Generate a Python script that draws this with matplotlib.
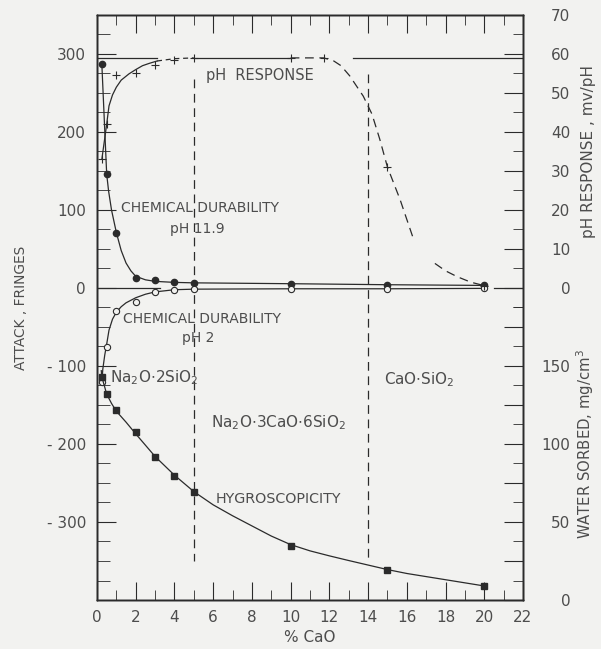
import matplotlib
matplotlib.use("Agg")
import matplotlib.pyplot as plt
import numpy as np

# ---- data ----
# x = % CaO
cao = [0.25, 0.5, 1, 2, 3, 4, 5, 10, 15, 20]

# attack, fringes (left axis)
dur_ph119 = [287, 146, 71, 13, 9.8, 7.2, 7.0, 5.5, 4.2, 3.3]
dur_ph2 = [-121, -76, -30, -18, -5.5, -2, -1.5, -1, -1, -0.5]

# water sorbed, mg/cm3 (lower right axis)
water = [143, 132, 122, 107.5, 91.7, 79.5, 69.5, 34.5, 19.2, 9.1]

# pH response, mv/pH (upper right axis)
ph_x = [0.25, 0.5, 1, 2, 3, 4, 5, 10, 11.7, 15, 20]
ph_y = [33, 42, 54.5, 55, 57.2, 58.5, 59, 59, 59, 31, 0.6]

# hand drawn curves
c119_x = [0.25, 0.5, 0.6, 0.75, 1.0, 1.25, 1.5, 1.75, 2.0, 2.5, 3, 4, 5, 10, 15, 20]
c119_y = [287, 146, 124, 100, 71, 48, 32, 22, 15, 10.5, 8.5, 7.2, 6.6, 5.5, 4.2, 3.3]

c2_x = [0.25, 0.3, 0.4, 0.5, 0.62, 0.8, 1.0, 1.25, 1.5, 2.0, 2.5, 3, 4, 5, 10, 15, 20]
c2_y = [-121, -104, -86, -72, -54, -40, -31, -24, -19, -12.5, -8, -5, -2.2, -1.5, -1, -1, -0.5]

hyg_x = [0.22, 0.25, 0.5, 0.75, 1, 1.5, 2, 3, 4, 5, 6, 7, 8, 9, 10, 11, 12, 13, 14, 15, 16, 17, 18, 19, 20]
hyg_y = [147, 143, 132, 126, 121, 114, 106.5, 92, 80, 69.5, 61, 54, 47.5, 41, 35.5, 31.5, 28.3, 25.3, 22.4, 19.5, 17, 15, 13, 11, 9]

ph_solid_x = [0.25, 0.5, 0.62, 0.8, 1.0, 1.25, 1.65, 2.0, 2.35, 2.7, 3.1]
ph_solid_y = [33, 42, 46.7, 49.5, 51.5, 53.3, 54.9, 56.0, 57.0, 57.6, 58.2]
ph_dash1_x = [3.1, 4, 5]
ph_dash1_y = [58.2, 58.8, 59]
ph_flat_x = [5, 10]
ph_flat_y = [59, 59]
ph_fall_x = [10, 11.7, 12.2, 12.6, 13.05, 13.75, 14.2, 14.6, 15.0, 15.65, 16.3]
ph_fall_y = [59, 59, 58.3, 57, 54.4, 49.2, 44.6, 38.2, 31, 22.7, 13.2]
ph_tail_x = [17.45, 18.0, 18.6, 19.3, 20]
ph_tail_y = [6.3, 4.4, 2.9, 1.5, 0.6]

nernst = 59  # theoretical mv/pH line

ink = "#2b2b2b"
txt = "#4d4d4d"
bg = "#f2f2f0"

fig = plt.figure(figsize=(6.01, 6.49), dpi=100, facecolor=bg)
ax = fig.add_axes([0.1614, 0.0755, 0.7088, 0.9014])
ax.set_facecolor(bg)
ax_ph = ax.twinx()
ax_w = ax.twinx()

ax.set_xlim(0, 22)
ax.set_ylim(-400, 350)
ax_ph.set_ylim(-80, 70)
ax_w.set_ylim(0, 375)

for a in (ax, ax_ph, ax_w):
    for s in a.spines.values():
        s.set_color(ink)
        s.set_linewidth(1.0)

# reference lines
ax_ph.plot([0, 3.1], [nernst, nernst], color=ink, lw=0.9)
ax_ph.plot([13.2, 22], [nernst, nernst], color=ink, lw=0.9)
ax.plot([0, 3.25], [0, 0], color=ink, lw=0.9)
ax.plot([20.5, 22], [0, 0], color=ink, lw=0.9)

# phase boundaries
ax.plot([5, 5], [268, -350], color=ink, lw=0.9, ls=(0, (7, 4.5)))
ax.plot([14, 14], [274, -350], color=ink, lw=0.9, ls=(0, (7, 4.5)))

# chemical durability curves
ax.plot(c119_x, c119_y, color=ink, lw=0.9)
ax.plot(c2_x, c2_y, color=ink, lw=0.9)
ax.plot(cao, dur_ph119, "o", color=ink, ms=4.5)
ax.plot(cao, dur_ph2, "o", mfc=bg, mec=ink, mew=0.8, ms=4.5)

# hygroscopicity
ax_w.plot(hyg_x, hyg_y, color=ink, lw=0.9)
ax_w.plot(cao, water, "s", color=ink, ms=4.5)

# pH response
ax_ph.plot(ph_solid_x, ph_solid_y, color=ink, lw=0.9)
ax_ph.plot(ph_dash1_x, ph_dash1_y, color=ink, lw=0.9, ls=(0, (4, 3)))
ax_ph.plot(ph_flat_x, ph_flat_y, color=ink, lw=0.9)
ax_ph.plot(ph_fall_x, ph_fall_y, color=ink, lw=0.9, ls=(0, (7, 4.5)))
ax_ph.plot(ph_tail_x, ph_tail_y, color=ink, lw=0.9, ls=(0, (7, 4.5)))
ax_ph.plot(ph_x, ph_y, "+", color=ink, ms=6, mew=0.8)

# ticks
ax.set_xticks(np.arange(0, 23, 2))
ax.set_xticks(np.arange(1, 22, 2), minor=True)
ax.set_yticks([300, 200, 100, 0, -100, -200, -300])
ax.set_yticklabels(["300", "200", "100", "0", "- 100", "- 200", "- 300"])
ax.set_yticks(np.arange(-375, 350, 25), minor=True)
ax.tick_params(axis="x", which="both", direction="in", top=True, bottom=True,
               color=ink, labelsize=11, labelcolor=txt, pad=7)
ax.tick_params(axis="x", which="major", length=13)
ax.tick_params(axis="x", which="minor", length=7)
ax.tick_params(axis="y", which="both", direction="in", left=True, right=False,
               color=ink, labelsize=11, labelcolor=txt, pad=8)
ax.tick_params(axis="y", which="major", length=14)
ax.tick_params(axis="y", which="minor", length=9)

ax_ph.set_yticks(np.arange(0, 71, 10))
ax_ph.set_yticks(np.arange(-5, 70, 10), minor=True)
ax_w.set_yticks(np.arange(0, 176, 25))
ax_w.set_yticklabels(["0", "", "50", "", "100", "", "150", ""])
ax_w.set_yticks(np.arange(12.5, 190, 25), minor=True)
for a in (ax_ph, ax_w):
    a.tick_params(axis="y", which="both", direction="in", color=ink,
                  labelsize=11, labelcolor=txt, pad=34)
    a.tick_params(axis="y", which="major", length=14)
    a.tick_params(axis="y", which="minor", length=7)
    for lab in a.get_yticklabels():
        lab.set_horizontalalignment("right")

# annotations
fs = 10
ax.text(5.63, 272, "pH  RESPONSE", fontsize=10.5, color=txt, va="center")
ax.text(1.24, 102, "CHEMICAL DURABILITY", fontsize=fs, color=txt, va="center")
ax.text(3.76, 76, "pH 11.9", fontsize=fs, color=txt, va="center")
ax.text(1.34, -40, "CHEMICAL DURABILITY", fontsize=fs, color=txt, va="center")
ax.text(4.4, -64, "pH 2", fontsize=fs, color=txt, va="center")
ax.text(0.66, -115, r"Na$_2$O$\cdot$2SiO$_2$", fontsize=11, color=txt, va="center")
ax.text(5.88, -172, r"Na$_2$O$\cdot$3CaO$\cdot$6SiO$_2$", fontsize=11, color=txt, va="center")
ax.text(6.13, -271, "HYGROSCOPICITY", fontsize=10.3, color=txt, va="center")
ax.text(14.83, -118, r"CaO$\cdot$SiO$_2$", fontsize=11, color=txt, va="center")

# axis labels
fig.text(310 / 601, 1 - 637 / 649, "% CaO", fontsize=11, color=txt, ha="center", va="center")
fig.text(21 / 601, 1 - 308 / 649, "ATTACK , FRINGES", fontsize=9.9, color=txt,
         rotation=90, ha="center", va="center")
fig.text(588 / 601, 1 - 152 / 649, "pH RESPONSE , mv/pH", fontsize=11, color=txt,
         rotation=90, ha="center", va="center")
fig.text(585 / 601, 1 - 444 / 649, r"WATER SORBED, mg/cm$^3$", fontsize=10.7, color=txt,
         rotation=90, ha="center", va="center")

fig.savefig("out.png", dpi=100, facecolor=bg)
